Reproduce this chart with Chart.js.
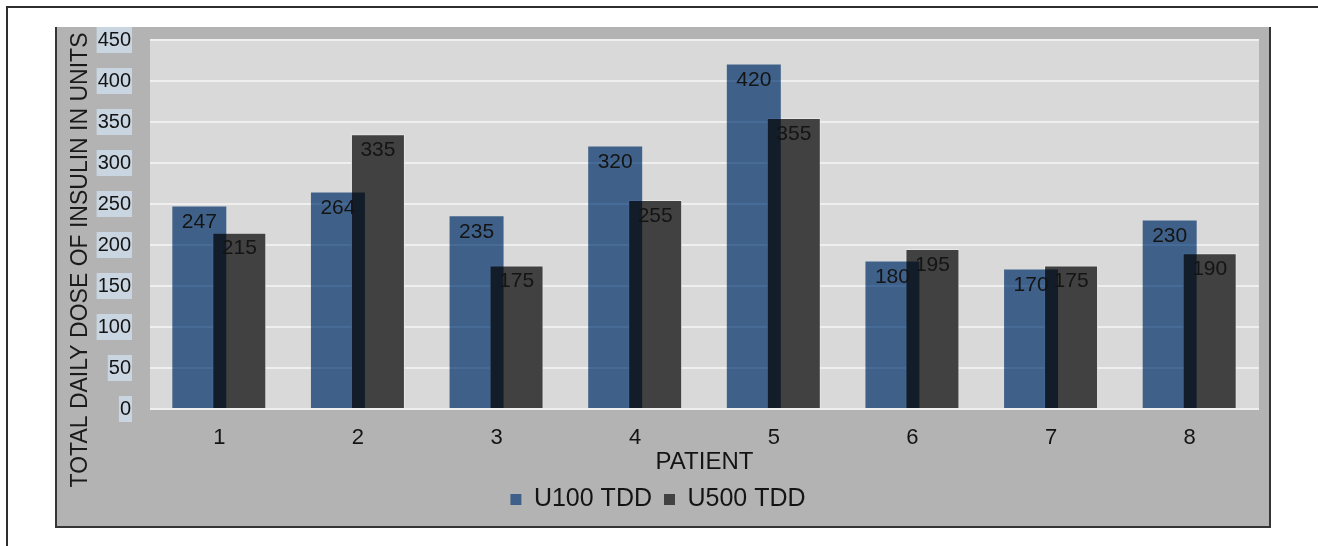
<!DOCTYPE html>
<html>
<head>
<meta charset="utf-8">
<script src="https://cdn.jsdelivr.net/npm/chart.js@4.4.1/dist/chart.umd.min.js"></script>
<style>
  html, body { margin: 0; padding: 0; background: #ffffff; }
  body { width: 1318px; height: 546px; position: relative; overflow: hidden; }
  .frame {
    position: absolute; left: 6px; top: 6px; right: 0; bottom: 0;
    border-left: 2px solid #2e2e2e; border-top: 2px solid #2e2e2e;
  }
  .panel {
    position: absolute; left: 55px; top: 27px; width: 1216px; height: 501px;
    box-sizing: border-box; background: #b3b3b3;
    border-left: 2px solid #353535; border-right: 2px solid #353535; border-bottom: 2px solid #353535;
  }
  canvas { display: block; }
</style>
</head>
<body>
<div class="frame"></div>
<div class="panel"><canvas id="chart" width="1212" height="499"></canvas></div>
<script>
// Total daily insulin dose per patient, before and after switching to U500
const patients = ['1', '2', '3', '4', '5', '6', '7', '8'];
const u100Tdd = [247, 264, 235, 320, 420, 180, 170, 230];
const u500Tdd = [215, 335, 175, 255, 355, 195, 175, 190];
const seriesNames = ['U100 TDD', 'U500 TDD'];
const yTicks = [0, 50, 100, 150, 200, 250, 300, 350, 400, 450];

const FONT = '"Liberation Sans", Arial, sans-serif';
const legendColors = ['#3f6189', '#414141'];

// light plot background
const plotBackground = {
  id: 'plotBackground',
  beforeDraw(chart) {
    const { ctx, chartArea: a } = chart;
    ctx.save();
    ctx.fillStyle = '#d9d9d9';
    ctx.fillRect(a.left, a.top, a.right - a.left, a.bottom - a.top);
    ctx.restore();
  }
};

// the U100 bars multiply over the U500 bars where they overlap
const multiplyBlend = {
  id: 'multiplyBlend',
  beforeDatasetDraw(chart, args) {
    if (args.index === 0) {
      chart.ctx.save();
      chart.ctx.globalCompositeOperation = 'multiply';
    }
  },
  afterDatasetDraw(chart, args) {
    if (args.index === 0) chart.ctx.restore();
  }
};

// value labels near the top of each bar
const valueLabels = {
  id: 'valueLabels',
  afterDatasetsDraw(chart) {
    const ctx = chart.ctx;
    ctx.save();
    ctx.font = '21px ' + FONT;
    ctx.fillStyle = '#141414';
    ctx.textAlign = 'center';
    ctx.textBaseline = 'middle';
    chart.data.datasets.forEach((ds, i) => {
      const meta = chart.getDatasetMeta(i);
      meta.data.forEach((bar, j) => {
        ctx.fillText(String(ds.data[j]), bar.x, bar.y + 16);
      });
    });
    ctx.restore();
  }
};

// rotated y-axis title
const yTitle = {
  id: 'yTitle',
  afterDraw(chart) {
    const ctx = chart.ctx;
    ctx.save();
    ctx.translate(24, 233);
    ctx.rotate(-Math.PI / 2);
    ctx.font = '23px ' + FONT;
    ctx.fillStyle = '#1a1a1a';
    ctx.textAlign = 'center';
    ctx.textBaseline = 'middle';
    ctx.fillText('TOTAL DAILY DOSE OF INSULIN IN UNITS', 0, 0);
    ctx.restore();
  }
};

new Chart(document.getElementById('chart'), {
  type: 'bar',
  data: {
    labels: patients,
    datasets: [
      {
        label: seriesNames[0],
        data: u100Tdd,
        backgroundColor: '#4a72a1',
        borderWidth: 0
      },
      {
        label: seriesNames[1],
        data: u500Tdd,
        backgroundColor: '#414141',
        borderColor: 'rgba(235,235,235,0.75)',
        borderWidth: 1
      }
    ]
  },
  options: {
    responsive: false,
    animation: false,
    devicePixelRatio: 1,
    categoryPercentage: 0.577,
    barPercentage: 1.35,
    layout: { padding: { top: 13, right: 10, left: 0, bottom: 4 } },
    plugins: {
      tooltip: { enabled: false },
      legend: {
        position: 'bottom',
        labels: {
          font: { family: FONT, size: 25 },
          color: '#141414',
          boxWidth: 11,
          boxHeight: 11,
          padding: 12,
          generateLabels(chart) {
            return Chart.defaults.plugins.legend.labels.generateLabels(chart).map((item, i) => {
              item.fillStyle = legendColors[i];
              item.strokeStyle = legendColors[i];
              item.lineWidth = 0;
              return item;
            });
          }
        }
      }
    },
    scales: {
      x: {
        afterFit(scale) {
          scale.height = 66;
          scale.paddingLeft = 0;
          scale.paddingRight = 0;
        },
        grid: { display: false, drawTicks: false },
        border: { display: false },
        ticks: { font: { family: FONT, size: 22 }, color: '#141414', padding: 16 },
        title: {
          display: true, text: 'PATIENT',
          font: { family: FONT, size: 24 }, color: '#141414',
          padding: { top: 0, bottom: -2 }
        }
      },
      y: {
        min: 0,
        max: 450,
        afterFit(scale) {
          scale.width = 93;
          scale.paddingTop = 0;
          scale.paddingBottom = 0;
        },
        afterBuildTicks(scale) { scale.ticks = yTicks.map(v => ({ value: v })); },
        grid: { color: '#efefef', lineWidth: 2, drawTicks: false },
        border: { display: false },
        ticks: {
          font: { family: FONT, size: 20 },
          color: '#141414',
          padding: 19,
          showLabelBackdrop: true,
          backdropColor: '#c9d5e0',
          backdropPadding: { top: 1, bottom: 1, left: 1, right: 1 }
        }
      }
    }
  },
  plugins: [plotBackground, multiplyBlend, valueLabels, yTitle]
});
</script>
</body>
</html>
